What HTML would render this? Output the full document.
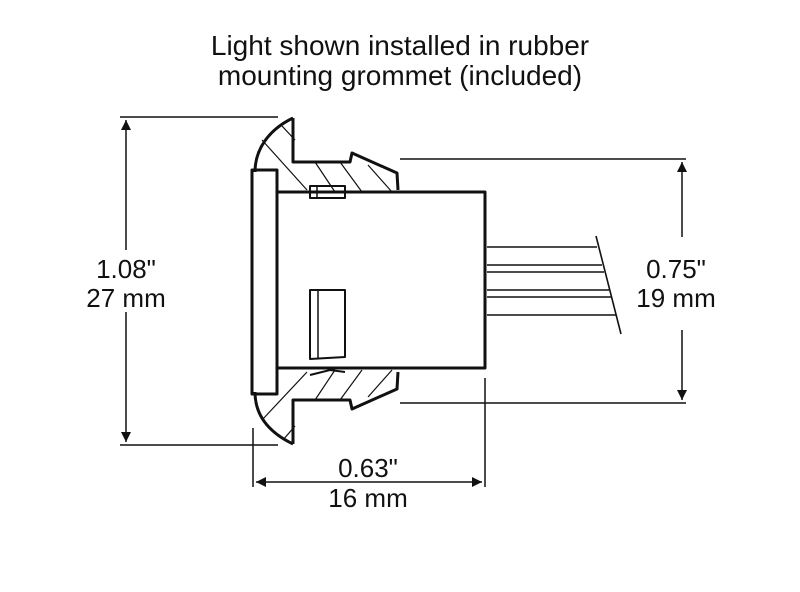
<!DOCTYPE html>
<html><head><style>body{margin:0;background:#fff}svg{display:block}text{font-family:"Liberation Sans",sans-serif;fill:#111}</style></head><body>
<svg width="800" height="592" viewBox="0 0 800 592">
<defs><marker id="a" viewBox="0 0 10 10" refX="10" refY="5" markerWidth="14" markerHeight="10" orient="auto" markerUnits="userSpaceOnUse"><path d="M0,0 L10,5 L0,10 Z" fill="#111"/></marker></defs>
<text x="400" y="55" font-size="28" text-anchor="middle">Light shown installed in rubber</text>
<text x="400" y="85" font-size="28" text-anchor="middle">mounting grommet (included)</text>
<g stroke="#111" stroke-width="1.5" fill="none">
<line x1="120" y1="117" x2="278" y2="117"/><line x1="120" y1="445" x2="278" y2="445"/>
<line x1="126" y1="250" x2="126" y2="120" marker-end="url(#a)"/><line x1="126" y1="312" x2="126" y2="442" marker-end="url(#a)"/>
<line x1="400" y1="159" x2="686" y2="159"/><line x1="400" y1="403" x2="686" y2="403"/>
<line x1="682" y1="237" x2="682" y2="162" marker-end="url(#a)"/><line x1="682" y1="330" x2="682" y2="400" marker-end="url(#a)"/>
<line x1="253" y1="428" x2="253" y2="487"/><line x1="485" y1="378" x2="485" y2="487"/>
<line x1="300" y1="482" x2="256" y2="482" marker-end="url(#a)"/><line x1="440" y1="482" x2="482" y2="482" marker-end="url(#a)"/>
<line x1="300" y1="482" x2="440" y2="482"/>
<g stroke-width="1.6"><line x1="487" y1="247" x2="597" y2="247"/><line x1="487" y1="265" x2="602" y2="265"/><line x1="487" y1="272" x2="604" y2="272"/><line x1="487" y1="290" x2="609" y2="290"/><line x1="487" y1="297" x2="611" y2="297"/><line x1="487" y1="315" x2="616" y2="315"/><line x1="596" y1="236" x2="621" y2="334"/></g>
<g stroke-width="1.2"><line x1="262" y1="140" x2="307" y2="190"/><line x1="282" y1="126" x2="295" y2="140"/><line x1="315" y1="162" x2="335" y2="192"/><line x1="340" y1="162" x2="362" y2="192"/><line x1="368" y1="165" x2="392" y2="192"/>
<line x1="262" y1="420" x2="307" y2="372"/><line x1="283" y1="440" x2="295" y2="426"/><line x1="315" y1="400" x2="335" y2="370"/><line x1="340" y1="400" x2="362" y2="370"/><line x1="368" y1="397" x2="392" y2="370"/></g>
<g stroke-width="3" stroke-linejoin="round">
<path d="M293,118 L293,162 L350,162 L352,153 L397,173 L398,190"/>
<path d="M293,444 L293,400 L350,400 L352,409 L397,389 L398,372"/>
<path d="M293,118 C268,130 255,150 255,172 M255,392 C255,415 268,432 293,444"/>
<path d="M278,192 L485,192 L485,368 L278,368"/>
<rect x="252" y="170" width="25" height="224"/>
<path d="M310,186 L310,198 L345,198 L345,186 Z" stroke-width="2"/>
<path d="M310,290 L345,290 L345,357 L310,359 Z" stroke-width="2"/>
</g>
<line x1="318" y1="290" x2="318" y2="359" stroke-width="1.5"/>
<line x1="317" y1="186" x2="317" y2="198" stroke-width="1.5"/>
<path d="M310,375 L330,370 L345,372" stroke-width="2"/>
</g>
<text x="126" y="278" font-size="26" text-anchor="middle">1.08"</text>
<text x="126" y="307" font-size="26" text-anchor="middle">27 mm</text>
<text x="676" y="278" font-size="26" text-anchor="middle">0.75"</text>
<text x="676" y="307" font-size="26" text-anchor="middle">19 mm</text>
<text x="368" y="477" font-size="26" text-anchor="middle">0.63"</text>
<text x="368" y="507" font-size="26" text-anchor="middle">16 mm</text>
</svg>
</body></html>
